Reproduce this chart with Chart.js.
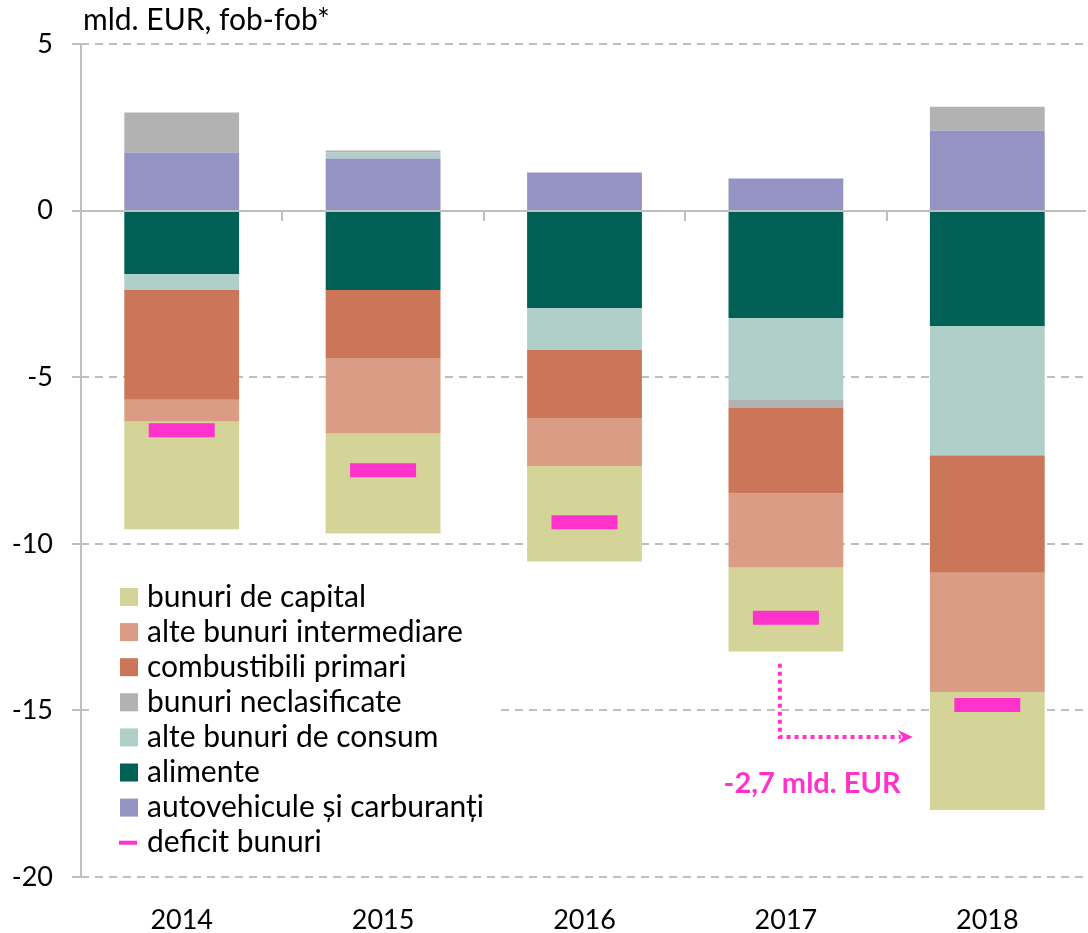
<!DOCTYPE html>
<html>
<head>
<meta charset="utf-8">
<script src="https://cdn.jsdelivr.net/npm/chart.js@4/dist/chart.umd.min.js"></script>
<style>
  html, body { margin: 0; padding: 0; background: #fff; }
  #wrap { width: 1088px; height: 933px; position: relative; }
</style>
</head>
<body>
<div id="wrap"><canvas id="chart"></canvas></div>
<script>
// values in mld. EUR
const years = ['2014', '2015', '2016', '2017', '2018'];
const autovehicule = [1.75, 1.57, 1.15, 0.97, 2.40];
const alimente = [-1.90, -2.38, -2.92, -3.22, -3.46];
const alteConsum = [-0.48, 0.18, -1.26, -2.46, -3.88];
const neclasificate = [1.20, 0.06, 0, -0.24, 0.72];
const combustibili = [-3.29, -2.04, -2.04, -2.57, -3.53];
const alteIntermediare = [-0.66, -2.27, -1.44, -2.22, -3.58];
const capital = [-3.23, -3.00, -2.87, -2.52, -3.54];
const deficit = [-6.59, -7.79, -9.35, -12.22, -14.84];
const yTicks = [5, 0, -5, -10, -15, -20];

const FONT = 'Lato, "Open Sans", sans-serif';
const GRID = '#BFBFBF';
const PINK = '#FF33CC';

function bar(label, data, color) {
    return {
        type: 'bar', label: label, data: data, backgroundColor: color,
        borderWidth: 0, stack: 's', barPercentage: 0.57, categoryPercentage: 1, order: 2
    };
}

// stacking order: datasets earlier in the list sit closer to zero
const datasets = [
    bar('autovehicule și carburanți', autovehicule, '#9593C3'),
    bar('alimente', alimente, '#006056'),
    bar('alte bunuri de consum', alteConsum, '#B0CFC9'),
    bar('bunuri neclasificate', neclasificate, '#B2B2B2'),
    bar('combustibili primari', combustibili, '#CC7659'),
    bar('alte bunuri intermediare', alteIntermediare, '#DA9C85'),
    bar('bunuri de capital', capital, '#D4D499'),
    {
        type: 'line', label: 'deficit bunuri', data: deficit, showLine: false,
        pointStyle: 'line', pointRadius: 33, pointHoverRadius: 33,
        borderColor: PINK, backgroundColor: PINK, pointBorderWidth: 14, borderWidth: 14,
        order: 1
    }
];

const legendOrder = ['bunuri de capital', 'alte bunuri intermediare', 'combustibili primari',
    'bunuri neclasificate', 'alte bunuri de consum', 'alimente',
    'autovehicule și carburanți', 'deficit bunuri'];

// dashed grid behind the bars, solid zero line + axis on top
const axesPlugin = {
    id: 'axesPlugin',
    beforeDatasetsDraw(chart) {
        const {ctx, chartArea, scales} = chart;
        ctx.save();
        ctx.strokeStyle = GRID;
        ctx.lineWidth = 2;
        ctx.setLineDash([8, 6]);
        yTicks.forEach(v => {
            if (v === 0) return;
            const y = Math.round(scales.y.getPixelForValue(v));
            ctx.beginPath();
            ctx.moveTo(chartArea.left, y);
            ctx.lineTo(chartArea.right - 4, y);
            ctx.stroke();
        });
        ctx.restore();
    },
    afterDatasetsDraw(chart) {
        const {ctx, chartArea, scales} = chart;
        ctx.save();
        ctx.strokeStyle = GRID;
        ctx.lineWidth = 2;
        // left axis with small ticks
        ctx.beginPath();
        ctx.moveTo(chartArea.left, chartArea.top);
        ctx.lineTo(chartArea.left, chartArea.bottom);
        yTicks.forEach(v => {
            const y = Math.round(scales.y.getPixelForValue(v));
            ctx.moveTo(chartArea.left - 9, y);
            ctx.lineTo(chartArea.left, y);
        });
        // zero line with category ticks
        const y0 = Math.round(scales.y.getPixelForValue(0));
        ctx.moveTo(chartArea.left, y0);
        ctx.lineTo(chartArea.right - 2, y0);
        for (let i = 0; i < years.length - 1; i++) {
            const x = Math.round(scales.x.getPixelForValue(i + 0.5));
            ctx.moveTo(x, y0);
            ctx.lineTo(x, y0 + 10);
        }
        ctx.stroke();
        ctx.restore();
    },
    afterDraw(chart) {
        const {ctx, chartArea, scales} = chart;
        ctx.save();
        // unit title
        ctx.fillStyle = '#000';
        ctx.font = '30px ' + FONT;
        ctx.textBaseline = 'middle';
        ctx.textAlign = 'left';
        ctx.fillText('mld. EUR, fob-fob*', chartArea.left + 2, 20);

        // legend with white background
        const lx = chartArea.left + 12, ly = chartArea.bottom - 302;
        ctx.fillStyle = '#fff';
        ctx.fillRect(lx, ly, 408, 290);
        legendOrder.forEach((name, i) => {
            const ds = chart.data.datasets.find(d => d.label === name);
            const cy = ly + 22 + i * 35.1;
            if (ds.type === 'line') {
                ctx.fillStyle = ds.borderColor;
                ctx.fillRect(lx + 26, cy - 2, 18, 4);
            } else {
                ctx.fillStyle = ds.backgroundColor;
                ctx.fillRect(lx + 27, cy - 9, 18, 18);
            }
            ctx.fillStyle = '#000';
            ctx.font = '30px ' + FONT;
            ctx.fillText(name, lx + 54, cy);
        });

        // dotted arrow and difference note between 2017 and 2018
        const xa = scales.x.getPixelForValue(2.97);
        const xb = scales.x.getPixelForValue(3.63);
        const ya = scales.y.getPixelForValue(-13.6);
        const yb = scales.y.getPixelForValue(-15.8);
        ctx.strokeStyle = PINK;
        ctx.lineWidth = 4;
        ctx.setLineDash([4, 4]);
        ctx.beginPath();
        ctx.moveTo(xa, ya);
        ctx.lineTo(xa, yb);
        ctx.lineTo(xb - 12, yb);
        ctx.stroke();
        ctx.setLineDash([]);
        ctx.fillStyle = PINK;
        ctx.beginPath();
        ctx.moveTo(xb, yb);
        ctx.lineTo(xb - 15, yb - 7);
        ctx.lineTo(xb - 10, yb);
        ctx.lineTo(xb - 15, yb + 7);
        ctx.closePath();
        ctx.fill();
        ctx.font = 'bold 29px ' + FONT;
        ctx.textAlign = 'center';
        ctx.fillText('-2,7 mld. EUR', scales.x.getPixelForValue(3.13), scales.y.getPixelForValue(-17.2));
        ctx.restore();
    }
};

new Chart(document.getElementById('chart'), {
    data: { labels: years, datasets: datasets },
    options: {
        responsive: true,
        maintainAspectRatio: false,
        animation: false,
        layout: { autoPadding: false, padding: { top: 43, right: 0, bottom: 0, left: 0 } },
        plugins: { legend: { display: false }, tooltip: { enabled: false } },
        scales: {
            x: {
                stacked: true,
                offset: true,
                grid: { display: false, drawTicks: false },
                border: { display: false },
                ticks: { color: '#000', font: { family: FONT, size: 27 }, padding: 27 },
                afterFit(s) { s.height = 56; s.paddingLeft = 0; s.paddingRight = 0; }
            },
            y: {
                stacked: true,
                min: -20, max: 5,
                grid: { display: false, drawTicks: false },
                border: { display: false },
                ticks: { stepSize: 5, color: '#000', font: { family: FONT, size: 27 }, padding: 28 },
                afterFit(s) { s.width = 81; }
            }
        }
    },
    plugins: [axesPlugin]
});
</script>
</body>
</html>
